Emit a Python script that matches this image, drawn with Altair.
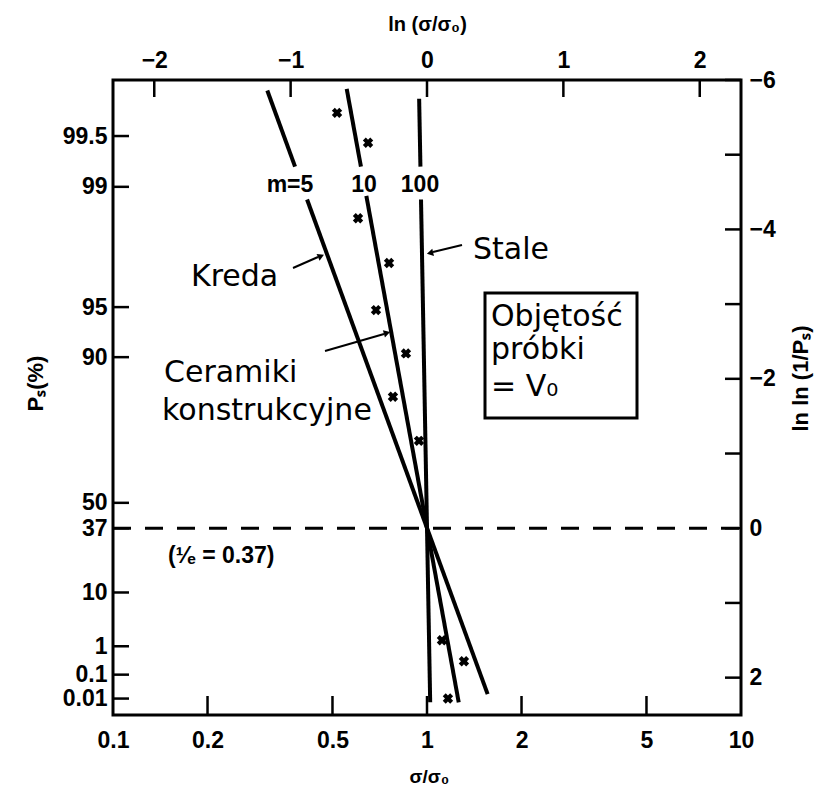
import altair as alt
import numpy as np
import pandas as pd

# ---------------- data ----------------
# Weibull lines (m = 5, 10, 100); each split in two pieces around its label
line_m = [5, 5, 5, 5, 10, 10, 10, 10, 100, 100, 100, 100]
line_seg = ["a", "a", "b", "b"] * 3
line_s = [0.310, 0.380, 0.415, 1.56, 0.555, 0.616, 0.641, 1.262, 0.944, 0.953, 0.957, 1.0236]
line_v = [-5.86, -4.84, -4.40, 2.22, -5.88, -4.84, -4.45, 2.33, -5.75, -4.84, -4.40, 2.33]

# measured points (x marks)
cross_s = [0.517, 0.649, 0.603, 0.757, 0.688, 0.857, 0.779, 0.943, 1.116, 1.311, 1.166]
cross_v = [-5.56, -5.16, -4.15, -3.55, -2.92, -2.34, -1.76, -1.17, 1.50, 1.78, 2.28]

# dashed reference line at ln ln(1/Ps) = 0  (Ps = 1/e = 0.37)
ref_s = [0.1, 10.0]
ref_v = [0.0, 0.0]

# axes
sigma_ticks = [0.1, 0.2, 0.5, 1, 2, 5, 10]
sigma_inner_ticks = [0.2, 0.5, 1, 2, 5]
ln_ticks = [-2, -1, 0, 1, 2]
ps_labels = ["99.5", "99", "95", "90", "50", "37", "10", "1", "0.1", "0.01"]
ps_pos = [-5.25, -4.57, -2.96, -2.29, -0.34, 0.0, 0.86, 1.58, 1.96, 2.28]
lnln_ticks = [-6, -5, -4, -3, -2, -1, 0, 1, 2]
lnln_labels = [-6, -4, -2, 0, 2]

# ---------------- layout ----------------
W, H = 628, 635
OX, OY = 113, 80  # plot origin on the page
TICK_FONT = "Liberation Sans"
ANN_FONT = "DejaVu Sans"

xs = alt.Scale(type="log", domain=[0.1, 10], nice=False)
ys = alt.Scale(domain=[-6, 2.5], reverse=True, nice=False, zero=False)

lines_df = pd.DataFrame({"m": line_m, "seg": line_seg, "s": line_s, "v": line_v})
lines_df["key"] = lines_df["m"].astype(str) + lines_df["seg"]
cross_df = pd.DataFrame({"s": cross_s, "v": cross_v})
ref_df = pd.DataFrame({"s": ref_s, "v": ref_v})

ps_expr = " : ".join(
    f"datum.value == {p} ? '{l}'" for p, l in zip(ps_pos, ps_labels)
) + " : ''"

axis_common = dict(
    grid=False, ticks=False, tickSize=0, domain=False,
    labelFont=TICK_FONT, labelFontSize=23, labelFontWeight="bold", labelColor="black",
    labelOverlap=False, labelFlush=False,
    titleFont=TICK_FONT, titleFontWeight="bold", titleColor="black",
)

lines = alt.Chart(lines_df).mark_line(color="black", strokeWidth=4, strokeCap="butt").encode(
    x=alt.X("s:Q", scale=xs, axis=alt.Axis(
        orient="bottom", values=sigma_ticks, format="~g", labelPadding=14,
        title="σ/σ₀", titleX=W / 2 + 2, titleY=61, titleFontSize=19,
        titleBaseline="middle", **axis_common)),
    y=alt.Y("v:Q", scale=ys, axis=alt.Axis(
        orient="left", values=ps_pos, labelExpr=ps_expr, labelPadding=6,
        title="Pₛ(%)", titleX=-78, titleY=303, titleFontSize=22,
        titleBaseline="middle", **axis_common)),
    detail="key:N",
)

ref = alt.Chart(ref_df).mark_line(color="black", strokeWidth=3, strokeDash=[18, 14]).encode(
    x=alt.X("s:Q", scale=xs, axis=alt.Axis(
        orient="top", values=[float(np.exp(k)) for k in ln_ticks],
        labelExpr="format(log(datum.value), '.0f')", labelPadding=8,
        title="ln (σ/σ₀)", titleX=W / 2, titleY=-56, titleFontSize=20,
        titleBaseline="middle", **axis_common)),
    y=alt.Y("v:Q", scale=ys, axis=alt.Axis(
        orient="right", values=lnln_labels, labelPadding=8,
        title="ln ln (1/Pₛ)", titleAngle=270, titleX=59, titleY=298, titleFontSize=22,
        titleBaseline="middle", **axis_common)),
)

crosses = alt.Chart(cross_df).mark_point(
    shape="cross", angle=45, filled=True, size=110, color="black", opacity=1
).encode(
    x=alt.X("s:Q", scale=xs, axis=None),
    y=alt.Y("v:Q", scale=ys, axis=None),
)

TICK_W = 2.5
top_ticks = alt.Chart(pd.DataFrame({"s": [float(np.exp(k)) for k in ln_ticks]})).mark_rule(
    color="black", strokeWidth=TICK_W).encode(
    x=alt.X("s:Q", scale=xs, axis=None), y=alt.value(0), y2=alt.value(17))
bottom_ticks = alt.Chart(pd.DataFrame({"s": sigma_inner_ticks})).mark_rule(
    color="black", strokeWidth=TICK_W).encode(
    x=alt.X("s:Q", scale=xs, axis=None), y=alt.value(H - 19), y2=alt.value(H))
left_ticks = alt.Chart(pd.DataFrame({"v": ps_pos})).mark_rule(
    color="black", strokeWidth=TICK_W).encode(
    y=alt.Y("v:Q", scale=ys, axis=None), x=alt.value(0), x2=alt.value(16))
right_ticks = alt.Chart(pd.DataFrame({"v": lnln_ticks})).mark_rule(
    color="black", strokeWidth=TICK_W).encode(
    y=alt.Y("v:Q", scale=ys, axis=None), x=alt.value(W - 16), x2=alt.value(W))

one = pd.DataFrame({"k": [0]})


def text(t, px, py, size, font=ANN_FONT, weight="normal", align="left", baseline="alphabetic"):
    return alt.Chart(pd.DataFrame({"t": [t]})).mark_text(
        font=font, fontSize=size, fontWeight=weight, align=align, baseline=baseline, color="black"
    ).encode(x=alt.value(px - OX), y=alt.value(py - OY), text="t:N")


def seg(x1, y1, x2, y2, w=2):
    return alt.Chart(one).mark_rule(color="black", strokeWidth=w).encode(
        x=alt.value(x1 - OX), y=alt.value(y1 - OY), x2=alt.value(x2 - OX), y2=alt.value(y2 - OY))


def head(px, py, ang):
    return alt.Chart(one).mark_point(
        shape="triangle-right", filled=True, size=55, color="black", opacity=1, angle=ang
    ).encode(x=alt.value(px - OX), y=alt.value(py - OY))


annotations = [
    text("m=5", 290, 185, 23, TICK_FONT, "bold", "center", "middle"),
    text("10", 364, 185, 23, TICK_FONT, "bold", "center", "middle"),
    text("100", 420, 185, 23, TICK_FONT, "bold", "center", "middle"),
    text("Kreda", 191, 286, 30),
    text("Stale", 473, 259, 30),
    text("Ceramiki", 164, 382, 30),
    text("konstrukcyjne", 162, 420, 30),
    text("Objętość", 491, 326, 30),
    text("próbki", 491, 359, 30),
    text("= V₀", 491, 396, 30),
    text("(¹⁄ₑ = 0.37)", 168, 556, 23, TICK_FONT, "bold", "left", "middle"),
    seg(293, 268, 318, 257), head(321, 256, 336),
    seg(462, 245, 433, 252), head(430, 253, 167),
    seg(325, 351, 384, 334), head(387, 333, 344),
    alt.Chart(one).mark_rect(fill=None, stroke="black", strokeWidth=3).encode(
        x=alt.value(485 - OX), x2=alt.value(637 - OX), y=alt.value(293 - OY), y2=alt.value(418 - OY)),
]

chart = alt.layer(
    ref, lines, crosses, top_ticks, bottom_ticks, left_ticks, right_ticks, *annotations
).resolve_scale(x="independent", y="independent").resolve_axis(
    x="independent", y="independent"
).properties(
    width=W, height=H,
    autosize=alt.AutoSizeParams(type="none"),
    padding={"left": OX - 8, "top": OY - 8, "right": 833 - 16 - (OX - 8) - W, "bottom": 796 - 16 - (OY - 8) - H},
    background="white",
).configure_view(stroke="black", strokeWidth=3)

chart.save("out.html", embed_options={"renderer": "svg", "actions": False})
